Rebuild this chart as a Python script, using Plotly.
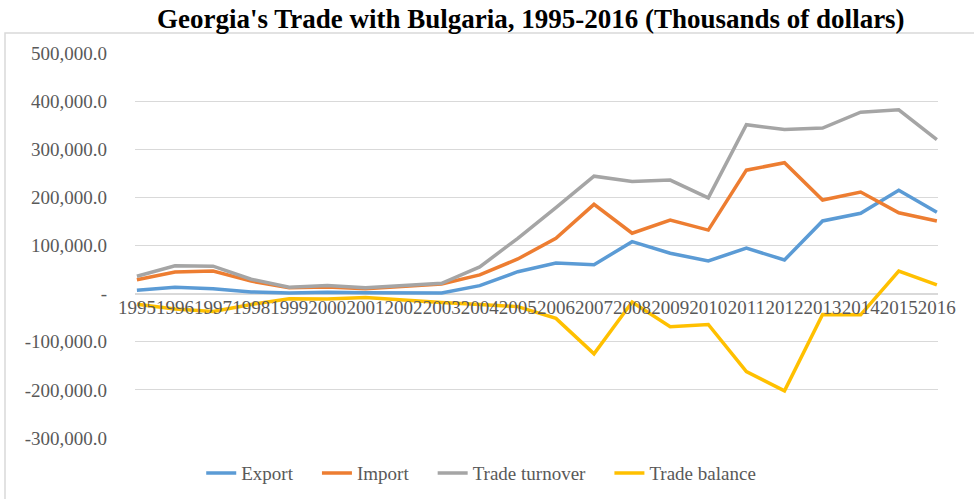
import plotly.graph_objects as go

years = list(range(1995, 2017))
year_labels = [str(y) for y in years]

export = [7000, 13000, 10000, 3500, 1500, 3000, 2000, 1500, 1500, 16500, 45500, 63500,
          60000, 108000, 84000, 68000, 94500, 70000, 151000, 167000, 215000, 169000]
imports = [29000, 45000, 47000, 26000, 12000, 14000, 10000, 15000, 20000, 39000, 72000, 115000,
           185500, 125500, 153000, 132000, 256500, 272000, 194500, 211000, 168000, 151000]
turnover = [36000, 58000, 57000, 30000, 13500, 17000, 12000, 16500, 21500, 55500, 115000, 178500,
            244000, 233000, 236000, 199000, 351000, 341000, 344000, 377000, 382000, 320000]
balance = [-22000, -32000, -37000, -22500, -10500, -11000, -8000, -13500, -18500, -22500, -27000, -51500,
           -125000, -17500, -69000, -64000, -162000, -202000, -43500, -44000, 47000, 18000]

series_names = ["Export", "Import", "Trade turnover", "Trade balance"]
series_colors = ["#5B9BD5", "#ED7D31", "#A5A5A5", "#FFC000"]

y_ticks = [-300000, -200000, -100000, 0, 100000, 200000, 300000, 400000, 500000]
y_tick_text = ["-300,000.0", "-200,000.0", "-100,000.0", "-", "100,000.0", "200,000.0",
               "300,000.0", "400,000.0", "500,000.0"]

pad = "&nbsp;" * 4

fig = go.Figure()
for name, vals, col in zip(series_names, [export, imports, turnover, balance], series_colors):
    fig.add_trace(go.Scatter(x=years, y=vals, mode="lines", name=name + pad,
                             line=dict(color=col, width=3.5)))

font_family = "Liberation Serif, Times New Roman, serif"
fig.update_layout(
    width=974, height=499,
    margin=dict(l=135, r=36, t=53, b=61, autoexpand=False),
    paper_bgcolor="white", plot_bgcolor="white",
    title=dict(text="<b>Georgia's Trade with Bulgaria, 1995-2016 (Thousands of dollars)</b>",
               x=0.545, xanchor="center", y=0.962, yanchor="middle",
               font=dict(family=font_family, size=27, color="black")),
    font=dict(family=font_family, color="#595959"),
    showlegend=True,
    legend=dict(orientation="h", x=0.443, xanchor="center", y=-0.091, yanchor="middle",
                font=dict(family=font_family, size=19, color="#595959"),
                bgcolor="rgba(0,0,0,0)"),
    xaxis=dict(range=[1994.95, 2016.03], tickvals=years, ticktext=year_labels,
               showgrid=False, zeroline=False, showline=False, ticks="", tickangle=0,
               anchor="free", position=0.375,
               tickfont=dict(family=font_family, size=19, color="#595959")),
    yaxis=dict(range=[-300000, 500000], tickvals=y_ticks, ticktext=y_tick_text,
               showgrid=True, gridcolor="#d9d9d9", gridwidth=1.2,
               zeroline=True, zerolinecolor="#d9d9d9", zerolinewidth=1.5,
               showline=False, ticks="", ticklabelstandoff=27,
               tickfont=dict(family=font_family, size=19, color="#595959")),
    shapes=[dict(type="rect", xref="paper", yref="paper",
                 x0=(5 - 135) / 803, x1=(990 - 135) / 803,
                 y0=(438 - 520) / 385, y1=(438 - 33) / 385,
                 line=dict(color="#d9d9d9", width=1.5), fillcolor="rgba(0,0,0,0)",
                 layer="below")],
)

fig.write_html("out.html", config={"displayModeBar": False},
               post_script="document.body.style.margin='0';document.body.style.overflow='hidden';")
